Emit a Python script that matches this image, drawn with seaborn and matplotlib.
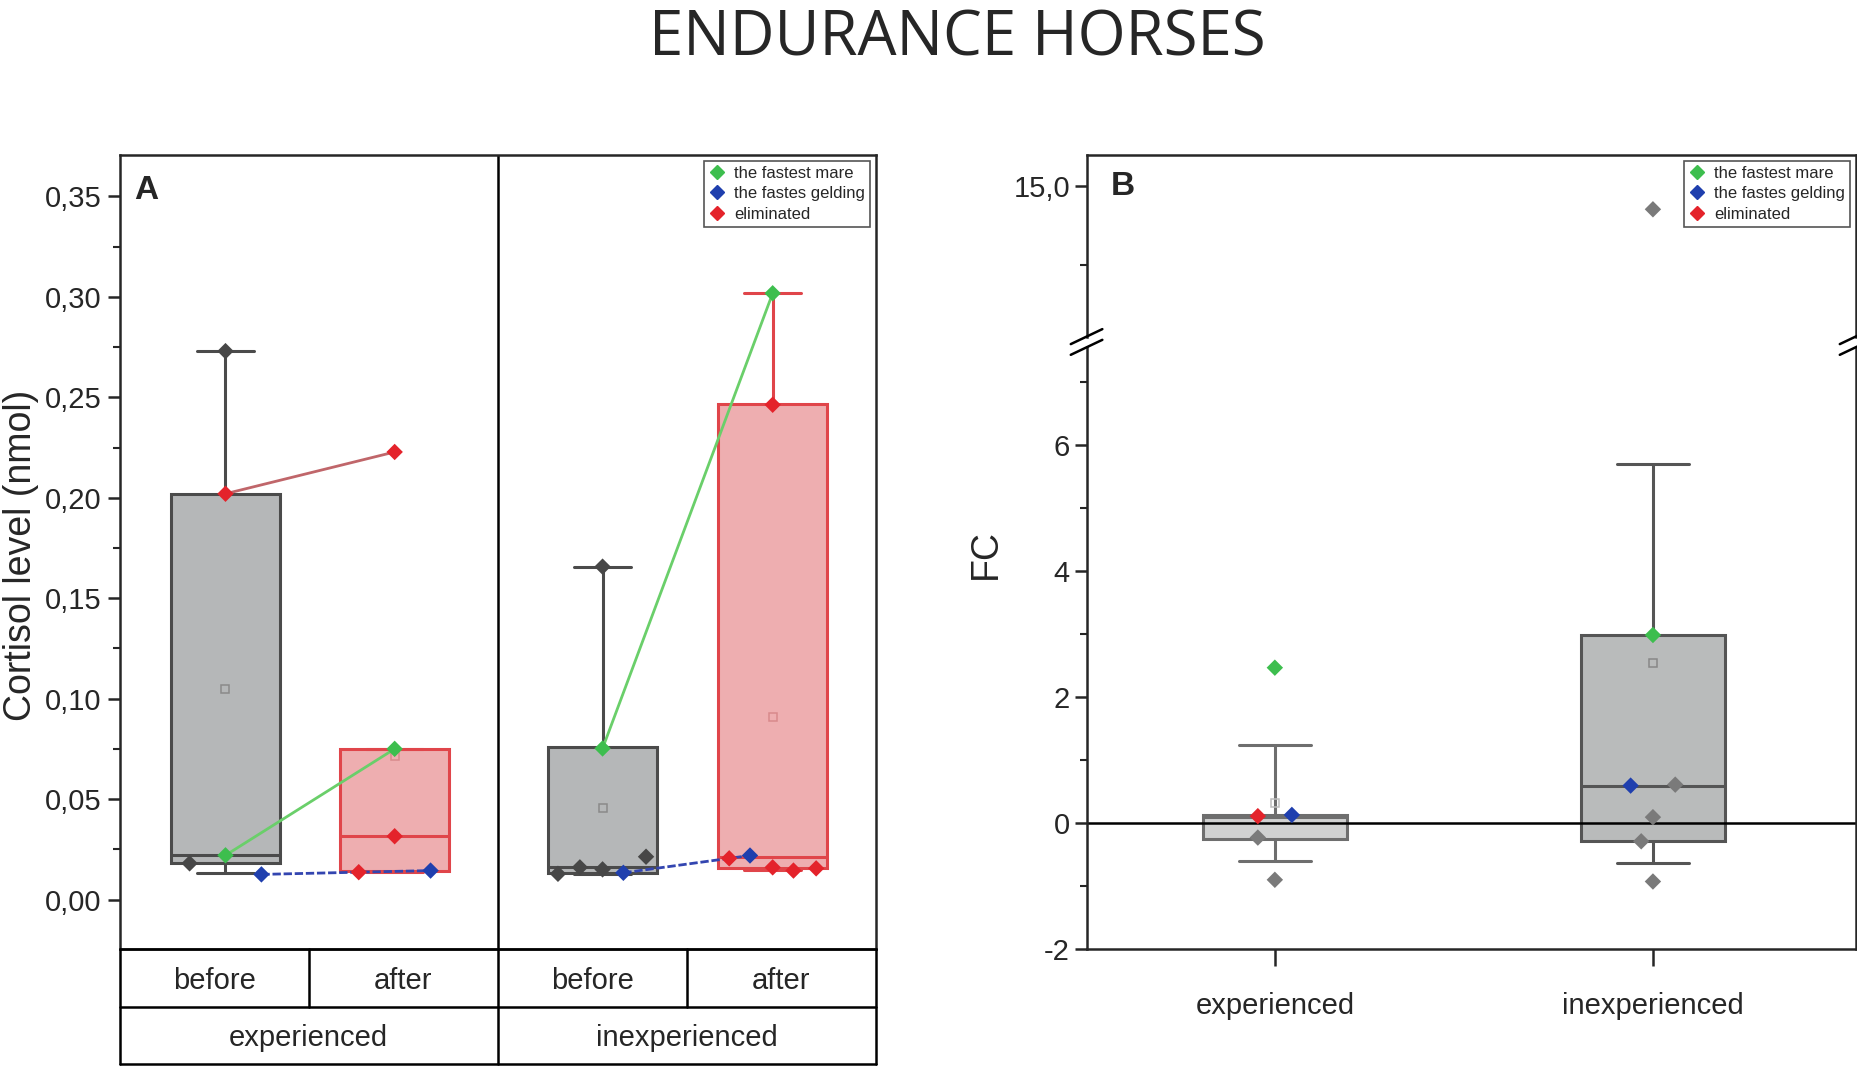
import matplotlib.pyplot as plt
import seaborn as sns
import pandas as pd
from matplotlib import font_manager
from matplotlib.lines import Line2D

# ---- panel A: cortisol level, 4 groups (box statistics)
CORT_TIME = ["before", "after", "before", "after"]
CORT_GROUP = ["experienced", "inexperienced"]
CORT_WHISLO = [0.013, 0.0135, 0.0125, 0.0145]
CORT_Q1 = [0.018, 0.0144, 0.0133, 0.0155]
CORT_MED = [0.022, 0.0315, 0.016, 0.0213]
CORT_Q3 = [0.202, 0.0747, 0.0758, 0.2468]
CORT_WHISHI = [0.273, 0.0747, 0.1657, 0.302]
CORT_MEAN = [0.105, 0.0715, 0.0456, 0.091]

# individual horses in panel A
CORT_PT_BOX = [0, 0, 0, 0, 0, 1, 1, 1, 1, 1, 2, 2, 2, 2, 2, 2, 2, 3, 3, 3, 3, 3, 3, 3]
CORT_PT_VAL = [0.018, 0.022, 0.202, 0.273, 0.0125,
               0.2228, 0.075, 0.0315, 0.0136, 0.0144,
               0.0128, 0.016, 0.015, 0.0133, 0.0213, 0.0752, 0.1657,
               0.3018, 0.2463, 0.0205, 0.0219, 0.016, 0.0144, 0.0155]
CORT_PT_KIND = ["other", "mare", "elim", "other", "gelding",
                "elim", "mare", "elim", "elim", "gelding",
                "other", "other", "other", "gelding", "other", "mare", "other",
                "mare", "elim", "elim", "gelding", "elim", "elim", "elim"]
CORT_PT_JIT = [-0.19, 0, 0, 0, 0.19,
               0, 0, 0, -0.19, 0.19,
               -0.236, -0.12, 0, 0.11, 0.23, 0, 0,
               0, 0, -0.23, -0.12, 0, 0.11, 0.23]
# same horse before -> after
CORT_LINKS = [(2, 5, "elim"), (1, 6, "mare"), (15, 17, "mare"),
              (4, 9, "gelding"), (13, 20, "gelding")]

# ---- panel B: fold change
FC_GROUP = ["experienced", "inexperienced"]
FC_WHISLO = [-0.595, -0.63]
FC_Q1 = [-0.247, -0.289]
FC_MED = [0.09, 0.595]
FC_Q3 = [0.128, 2.985]
FC_WHISHI = [1.233, 5.706]
FC_MEAN = [0.323, 2.534]

FC_PT_BOX = [0, 0, 0, 0, 0, 1, 1, 1, 1, 1, 1, 1]
FC_PT_VAL = [2.466, 0.11, 0.13, -0.23, -0.9, 2.985, 0.595, 0.61, 0.094, -0.289, -0.927, 14.27]
FC_PT_KIND = ["mare", "elim", "gelding", "other", "other",
              "mare", "gelding", "other", "other", "other", "other", "other"]
FC_PT_JIT = [0, -0.045, 0.045, -0.045, 0, 0, -0.059, 0.059, 0, -0.031, 0, 0]

LEGEND = {"mare": "the fastest mare", "gelding": "the fastes gelding", "elim": "eliminated"}

KIND_COLOR = {"other": "#474747", "mare": "#3dbe4e", "gelding": "#1f3fae", "elim": "#e4232b"}
LINK_COLOR = {"mare": "#6acf6a", "gelding": "#3345b0", "elim": "#c0666a"}

sns.set_style("ticks")
names = {f.name for f in font_manager.fontManager.ttflist}
NARROW = "Liberation Sans Narrow" if "Liberation Sans Narrow" in names else "Liberation Sans"
plt.rcParams["font.family"] = [NARROW, "DejaVu Sans"]
plt.rcParams["axes.linewidth"] = 1.8
TICK_FS = 21 if NARROW == "Liberation Sans" else 23

fig = plt.figure(figsize=(18.58, 10.71), dpi=100)
fig.text(0.515, 0.963, "ENDURANCE HORSES", ha="center", va="center",
         fontsize=44.5, family=["Open Sans", "DejaVu Sans"])


def draw_box(ax, pos, lo, q1, med, q3, hi, mean, width, capw, face, edge, meanc, lw=2.2):
    st = [dict(whislo=lo, q1=q1, med=med, q3=q3, whishi=hi, mean=mean, fliers=[])]
    ax.bxp(st, positions=[pos], widths=width, capwidths=capw, patch_artist=True,
           showmeans=True, showfliers=False, manage_ticks=False,
           boxprops=dict(facecolor=face, edgecolor=edge, linewidth=lw),
           medianprops=dict(color=edge, linewidth=lw),
           whiskerprops=dict(color=edge, linewidth=lw),
           capprops=dict(color=edge, linewidth=lw),
           meanprops=dict(marker="s", markerfacecolor="none", markeredgecolor=meanc,
                          markersize=6, markeredgewidth=1.1))


def legend(ax):
    handles = [Line2D([], [], marker="D", ls="none", color=KIND_COLOR[k], markersize=7)
               for k in LEGEND]
    lg = ax.legend(handles, list(LEGEND.values()), loc="upper right", fontsize=12,
                   handlelength=1.0, handletextpad=0.5, labelspacing=0.32,
                   borderpad=0.3, borderaxespad=0.35, frameon=True, fancybox=False,
                   framealpha=1, edgecolor="#555555")
    lg.get_frame().set_linewidth(1.2)


# ================= panel A =================
axA = fig.add_axes([0.0644, 0.1138, 0.4069, 0.7414])
POS_A = [0.06, 0.955, 2.055, 2.955]
BOX_A = [("#b5b7b8", "#4b4b4b", "#8a8a8a"), ("#eeaeb0", "#e0454a", "#d98a8c")] * 2
for i in range(4):
    face, edge, mc = BOX_A[i]
    draw_box(axA, POS_A[i], CORT_WHISLO[i], CORT_Q1[i], CORT_MED[i], CORT_Q3[i],
             CORT_WHISHI[i], CORT_MEAN[i], 0.58, 0.3, face, edge, mc)

ptsA = pd.DataFrame({
    "x": [POS_A[b] + j for b, j in zip(CORT_PT_BOX, CORT_PT_JIT)],
    "y": CORT_PT_VAL,
    "kind": CORT_PT_KIND,
})
for a, b, k in CORT_LINKS:
    axA.plot(ptsA.x[[a, b]], ptsA.y[[a, b]], color=LINK_COLOR[k], lw=2,
             ls=(0, (3, 1)) if k == "gelding" else "-", zorder=3)
sns.scatterplot(data=ptsA, x="x", y="y", hue="kind", palette=KIND_COLOR, marker="D",
                s=70, linewidth=0, legend=False, ax=axA, zorder=4)

axA.axvline(1.5, color="black", lw=1.8)
axA.set_xlim(-0.5, 3.5)
axA.set_ylim(-0.0247, 0.3706)
axA.set_xticks([])
yt = [0.05 * i for i in range(8)]
axA.set_yticks(yt)
axA.set_yticklabels([f"{v:.2f}".replace(".", ",") for v in yt], fontsize=TICK_FS)
axA.set_yticks([0.025 + 0.05 * i for i in range(7)], minor=True)
axA.tick_params(axis="y", which="major", length=9, width=1.8, pad=4)
axA.tick_params(axis="y", which="minor", length=5, width=1.5)
axA.set_xlabel("")
axA.set_ylabel("")
axA.text(0.019, 0.975, "A", transform=axA.transAxes, fontsize=24, fontweight="bold",
         family=["Liberation Sans", "DejaVu Sans"], va="top", ha="left")
legend(axA)

# category table under panel A
tbl = fig.add_axes([0.0644, 0.0066, 0.4069, 0.1072])
tbl.set_xlim(-0.5, 3.5)
tbl.set_ylim(0, 2)
tbl.axis("off")
for yy in (0, 1, 2):
    tbl.plot([-0.5, 3.5], [yy, yy], color="black", lw=1.8, clip_on=False)
for xx in (-0.5, 1.5, 3.5):
    tbl.plot([xx, xx], [0, 2], color="black", lw=1.8, clip_on=False)
for xx in (0.5, 2.5):
    tbl.plot([xx, xx], [1, 2], color="black", lw=1.8, clip_on=False)
for i, t in enumerate(CORT_TIME):
    tbl.text(i, 1.44, t, ha="center", va="center", fontsize=TICK_FS)
for i, g in enumerate(CORT_GROUP):
    tbl.text(0.5 + 2 * i, 0.46, g, ha="center", va="center", fontsize=TICK_FS)

fig.text(0.0115, 0.481, "Cortisol level (nmol)", rotation=90, ha="center", va="center",
         fontsize=27, family=["Liberation Sans", "DejaVu Sans"])

# ================= panel B (broken axis) =================
axU = fig.add_axes([0.5848, 0.6857, 0.4139, 0.1695])
axL = fig.add_axes([0.5848, 0.1138, 0.4139, 0.5619])
BOX_B = [("#d0d1d1", "#6e6e6e", "#bdbdbd"), ("#b9bbbb", "#555555", "#888888")]
for i in range(2):
    face, edge, mc = BOX_B[i]
    draw_box(axL, i, FC_WHISLO[i], FC_Q1[i], FC_MED[i], FC_Q3[i], FC_WHISHI[i],
             FC_MEAN[i], 0.38, 0.19, face, edge, mc)
axL.axhline(0, color="black", lw=1.8, zorder=2.5)

ptsB = pd.DataFrame({
    "x": [b + j for b, j in zip(FC_PT_BOX, FC_PT_JIT)],
    "y": FC_PT_VAL,
    "kind": FC_PT_KIND,
})
ptsB["kind"] = ptsB["kind"].replace({"other": "otherB"})
palB = dict(KIND_COLOR, otherB="#7a7a7a")
for ax in (axU, axL):
    sns.scatterplot(data=ptsB, x="x", y="y", hue="kind", palette=palB, marker="D",
                    s=70, linewidth=0, legend=False, ax=ax, zorder=4)
    ax.set_xlim(-0.498, 1.536)
    ax.set_xlabel("")
    ax.set_ylabel("")

axU.set_ylim(10.23, 15.99)
axL.set_ylim(-2, 7.55)
axU.spines["bottom"].set_visible(False)
axL.spines["top"].set_visible(False)
axU.set_xticks([])
axU.set_yticks([15])
axU.set_yticklabels(["15,0"], fontsize=TICK_FS)
axU.set_yticks([12.5], minor=True)
axL.set_yticks([-2, 0, 2, 4, 6])
axL.set_yticklabels(["-2", "0", "2", "4", "6"], fontsize=TICK_FS)
axL.set_yticks([-1, 1, 3, 5, 7], minor=True)
axL.set_xticks([0, 1])
axL.set_xticklabels(FC_GROUP, fontsize=TICK_FS)
for ax in (axU, axL):
    ax.tick_params(axis="y", which="major", length=9, width=1.8, pad=3)
    ax.tick_params(axis="y", which="minor", length=5, width=1.5)
axL.tick_params(axis="x", length=12, width=1.8, pad=19)
axU.text(0.032, 0.91, "B", transform=axU.transAxes, fontsize=24, fontweight="bold",
         family=["Liberation Sans", "DejaVu Sans"], va="top", ha="left")
legend(axU)

# break marks
for xb in (0.5848, 0.9987):
    for yb in (0.6857, 0.6757):
        fig.add_artist(Line2D([xb - 0.0085, xb + 0.0085], [yb - 0.007, yb + 0.007],
                              color="black", lw=1.8, clip_on=False))

fig.text(0.5306, 0.483, "FC", rotation=90, ha="center", va="center",
         fontsize=27, family=["Liberation Sans", "DejaVu Sans"])

fig.savefig("out.png", dpi=100)
